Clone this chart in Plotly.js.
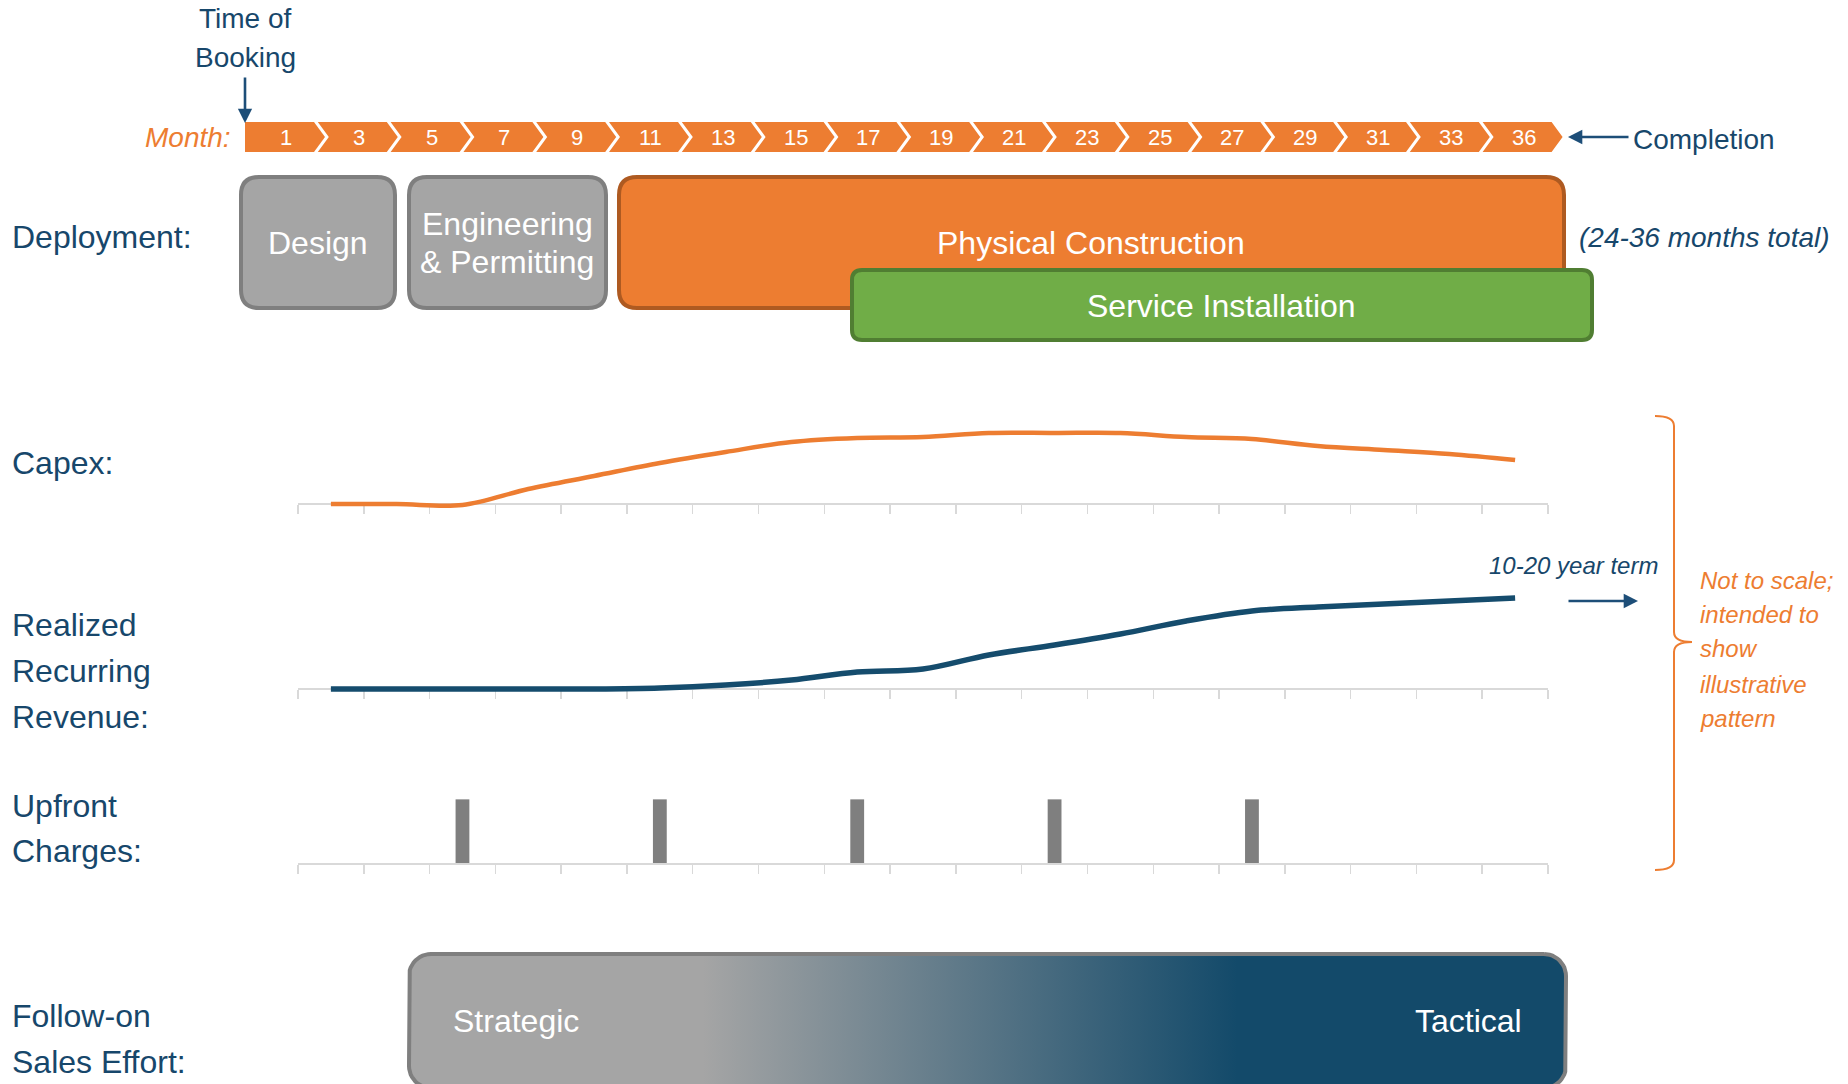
<!DOCTYPE html>
<html><head><meta charset="utf-8">
<script src="https://cdn.plot.ly/plotly-3.0.1.min.js"></script>
<style>html,body{margin:0;padding:0;background:#fff}#chart{width:1848px;height:1084px}</style>
</head><body><div id="chart"></div>
<script>
// ---- data ----
const months = ['1','3','5','7','9','11','13','15','17','19','21','23','25','27','29','31','33','36'];
const periods = ['1','2','3','4','5','6','7','8','9','10','11','12','13','14','15','16','17','18','19'];
const capex = [0,0,-1,15,28,41,52,62,66,67,71,71,71,67,65,58,54,50,44];
const revenue = [0,0,0,0,0,1,4,9,17,20,34,44,55,68,78,82,85,88,91];
const upfront = [0,0,1,0,0,1,0,0,1,0,0,1,0,0,1,0,0,0,0];
const rowLabels = [['Deployment:'],['Capex:'],['Realized','Recurring','Revenue:'],['Upfront','Charges:'],['Follow-on','Sales Effort:']];
const phaseNames = ['Design','Engineering & Permitting','Physical Construction','Service Installation'];
const noteLines = ['Not to scale;','intended to','show','illustrative','pattern'];

// ---- layout helpers ----
const W = 1848, H = 1084;
const FONT = 'Arial, "Liberation Sans", sans-serif';
const NAVY = '#17476B', ORANGE = '#ED7D31', ARROW = '#1D4E78';
const py = v => 1 - v / H;

function rr(x0,y0,x1,y1,r){
  return `M${x0+r},${y0} L${x1-r},${y0} Q${x1},${y0} ${x1},${y0+r} L${x1},${y1-r} Q${x1},${y1} ${x1-r},${y1} L${x0+r},${y1} Q${x0},${y1} ${x0},${y1-r} L${x0},${y0+r} Q${x0},${y0} ${x0+r},${y0} Z`;
}
function rrPoints(x0,y0,x1,y1,r){
  const xs=[], ys=[];
  const corners=[[x1-r,y0+r,-90],[x1-r,y1-r,0],[x0+r,y1-r,90],[x0+r,y0+r,180]];
  corners.forEach(c=>{for(let k=0;k<=12;k++){const a=(c[2]+k*90/12)*Math.PI/180;xs.push(c[0]+r*Math.cos(a));ys.push(c[1]+r*Math.sin(a));}});
  xs.push(xs[0]); ys.push(ys[0]);
  return {xs, ys};
}

const shapes = [];
const annotations = [];
const txt = (x,y,text,opts={}) => annotations.push(Object.assign({xref:'x4',yref:'y4',x,y,text,showarrow:false,
  xanchor:'center',yanchor:'middle',font:{family:FONT,size:32,color:NAVY}},opts));

// month chevrons
const cx0 = 245, pitch = 72.8, cw = 69, tip = 11, cT = 122, cB = 152, cM = 137;
months.forEach((m,i)=>{
  const L = cx0 + i*pitch;
  let p = `M${L},${cT} L${L+cw},${cT} L${L+cw+tip},${cM} L${L+cw},${cB} L${L},${cB}`;
  if(i>0) p += ` L${L+tip},${cM}`;
  p += ' Z';
  shapes.push({type:'path',xref:'x4',yref:'y4',path:p,fillcolor:ORANGE,line:{width:0}});
  txt(L+41, cM, m, {font:{family:FONT,size:22,color:'#FFFFFF'}});
});

// deployment boxes
shapes.push({type:'path',xref:'x4',yref:'y4',path:rr(241,177,395,308,18),fillcolor:'#A5A5A5',line:{color:'#7F7F7F',width:4}});
shapes.push({type:'path',xref:'x4',yref:'y4',path:rr(409,177,606,308,18),fillcolor:'#A5A5A5',line:{color:'#7F7F7F',width:4}});
shapes.push({type:'path',xref:'x4',yref:'y4',path:rr(619,177,1564,308,18),fillcolor:ORANGE,line:{color:'#AE5A21',width:4}});
shapes.push({type:'path',xref:'x4',yref:'y4',path:rr(852,270,1592,340,10),fillcolor:'#70AD47',line:{color:'#507E32',width:4}});

// bracket
shapes.push({type:'path',xref:'x4',yref:'y4',
  path:'M1655,416 Q1674,416 1674,426 L1674,632 Q1674,642 1692,642 Q1674,642 1674,652 L1674,860 Q1674,870 1655,870',
  line:{color:ORANGE,width:2}});

// texts
txt(245,18,'Time of',{font:{family:FONT,size:28,color:NAVY}});
txt(245,57,'Booking',{font:{family:FONT,size:28,color:NAVY}});
txt(233,137,'<i>Month:</i>',{xanchor:'right',font:{family:FONT,size:28,color:ORANGE}});
txt(1631,139,'Completion',{xanchor:'left',font:{family:FONT,size:28,color:NAVY}});
txt(1577,237,'<i>(24-36 months total)</i>',{xanchor:'left',font:{family:FONT,size:28,color:NAVY}});

const labelPos = [[237],[463],[625,671,717],[806,851],[1016,1062]];
rowLabels.forEach((lines,i)=>lines.forEach((t,j)=>txt(10,labelPos[i][j],t,{xanchor:'left'})));

const white = {family:FONT,size:32,color:'#FFFFFF'};
txt(318,243,phaseNames[0],{font:white});
const eng = phaseNames[1].split(' & ');
txt(507,224,eng[0],{font:white});
txt(507,262,'& '+eng[1],{font:white});
txt(1091,243,phaseNames[2],{font:white});
txt(1221,306,phaseNames[3],{font:white});

txt(1573,565,'<i>10-20 year term</i>',{font:{family:FONT,size:24,color:NAVY}});
const noteY=[580,614,648,684,718];
noteLines.forEach((t,i)=>txt(1698,noteY[i],'<i>'+t+'</i>',{xanchor:'left',font:{family:FONT,size:24,color:ORANGE}}));

txt(451,1021,'Strategic',{xanchor:'left',font:white});
txt(1524,1021,'Tactical',{xanchor:'right',font:white});

// arrows
const arrow = (x,y,ax,ay) => annotations.push({xref:'x4',yref:'y4',axref:'x4',ayref:'y4',x,y,ax,ay,text:'',
  showarrow:true,arrowhead:2,arrowsize:1.1,arrowwidth:2.6,arrowcolor:ARROW,standoff:0,startstandoff:0});
arrow(245,123,245,76);
arrow(1568,137,1630,137);
arrow(1638,601,1567,601);

// ---- traces ----
const box = rrPoints(409,954,1566,1088,22);
const traces = [
  {type:'scatter',mode:'lines',x:periods,y:capex,xaxis:'x',yaxis:'y',
   line:{color:ORANGE,width:4.5,shape:'spline',smoothing:1},hoverinfo:'skip'},
  {type:'scatter',mode:'lines',x:periods,y:revenue,xaxis:'x2',yaxis:'y2',
   line:{color:'#154C6D',width:5.5,shape:'spline',smoothing:1},hoverinfo:'skip'},
  {type:'bar',x:periods,y:upfront,xaxis:'x3',yaxis:'y3',width:0.21,
   marker:{color:'#7F7F7F',line:{width:0}},hoverinfo:'skip'},
  {type:'scatter',mode:'lines',x:box.xs,y:box.ys,xaxis:'x4',yaxis:'y4',fill:'toself',
   fillgradient:{type:'horizontal',colorscale:[[0,'#A5A5A5'],[0.254,'#A5A5A5'],[0.716,'#134A6A'],[1,'#134A6A']]},
   line:{color:'#7F7F7F',width:4},hoverinfo:'skip'}
];

const catAxis = (dom, extra) => Object.assign({domain:dom,type:'category',range:[-0.5,18.5],tickson:'boundaries',
  ticks:'outside',ticklen:9,tickcolor:'#D9D9D9',tickwidth:1.5,showline:true,linecolor:'#D9D9D9',linewidth:2,
  showgrid:false,zeroline:false,showticklabels:false,fixedrange:true,layer:'below traces'}, extra);
const xd = [298/W, 1548/W];

const layout = {
  width:W,height:H,margin:{l:0,r:0,t:0,b:0},paper_bgcolor:'#FFFFFF',plot_bgcolor:'rgba(0,0,0,0)',
  showlegend:false,
  xaxis: catAxis(xd,{anchor:'free',position:py(504)}),
  yaxis: {domain:[py(509),py(424)],range:[-5,80],visible:false,anchor:'x',fixedrange:true},
  xaxis2: catAxis(xd,{anchor:'free',position:py(689)}),
  yaxis2: {domain:[py(694),py(589)],range:[-5,100],visible:false,anchor:'x2',fixedrange:true},
  xaxis3: catAxis(xd,{anchor:'y3'}),
  yaxis3: {domain:[py(863),py(793)],range:[0,1.1],visible:false,anchor:'x3',fixedrange:true},
  xaxis4: {domain:[0,1],range:[0,W],visible:false,anchor:'y4',fixedrange:true},
  yaxis4: {domain:[0,1],range:[H,0],visible:false,anchor:'x4',fixedrange:true},
  shapes, annotations
};
Plotly.newPlot('chart', traces, layout, {displayModeBar:false,staticPlot:true});
</script></body></html>
